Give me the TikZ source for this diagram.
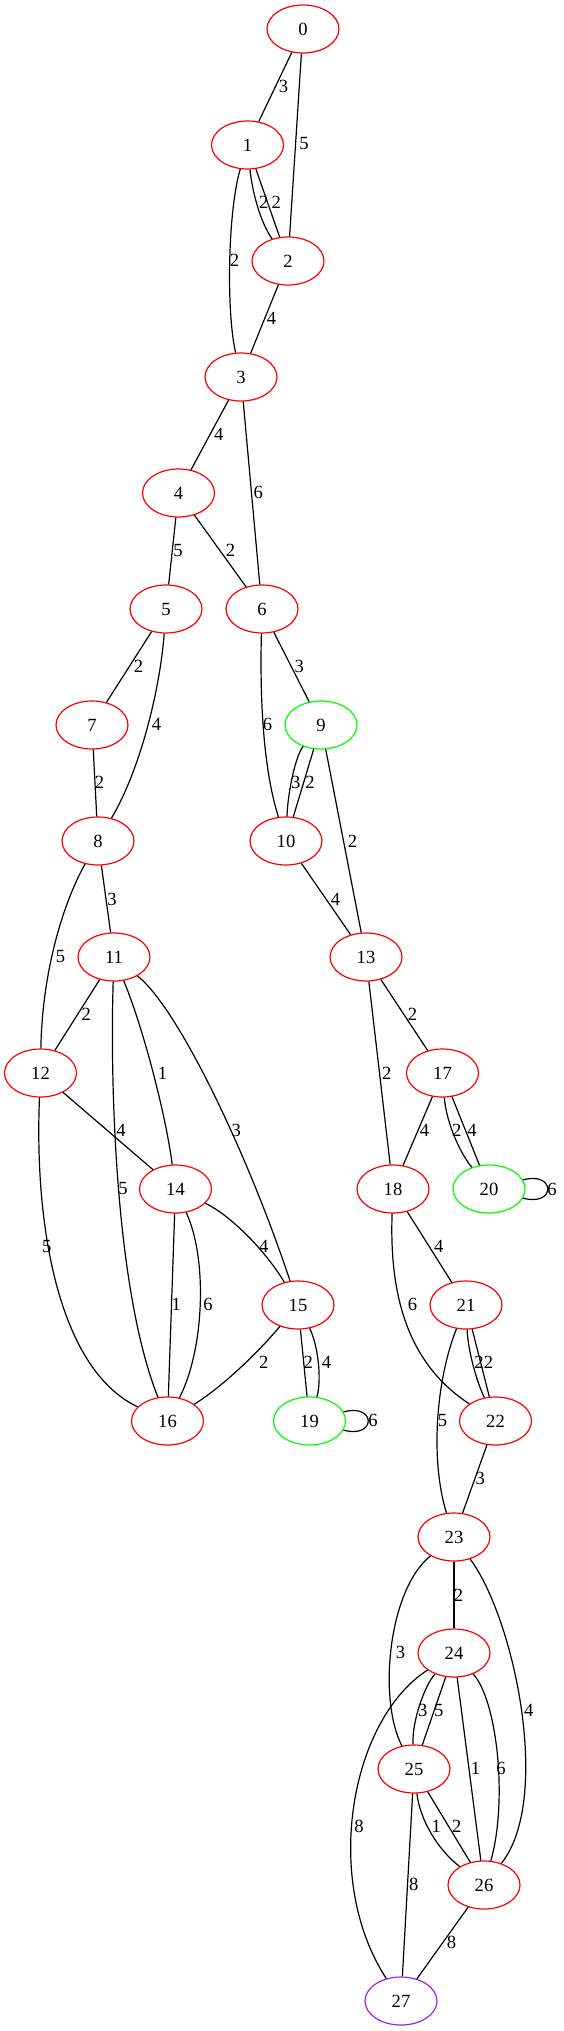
\documentclass[tikz,border=0pt]{standalone}
\usepackage{fontspec}
\setmainfont{Liberation Serif}
\usetikzlibrary{shapes.geometric}

\begin{document}
\begin{tikzpicture}[x=1pt,y=-1pt]
% Define colours
\definecolor{nodecol}{RGB}{255,0,0}     % Red
\definecolor{goalcol}{RGB}{0,255,0}     % Green
\definecolor{lastcol}{RGB}{160,32,240}  % Purple

% Styles
\tikzset{
  vtx/.style={ellipse,draw=nodecol,line width=1.2pt,minimum width=72pt,minimum height=48pt,inner sep=0pt,font=\fontsize{18.6}{18.6}\selectfont},
  lbl/.style={font=\fontsize{18.6}{18.6}\selectfont,inner sep=0pt},
  wire/.style={line width=1.2pt}
}

\useasboundingbox (0,0) rectangle (564,2031);

% Nodes, one row per rank
\node[vtx] (n0) at (303,29) {0};
\node[vtx] (n1) at (247.5,145) {1};
\node[vtx] (n2) at (288,261) {2};
\node[vtx] (n3) at (241,377) {3};
\node[vtx] (n4) at (178.5,493) {4};
\node[vtx] (n5) at (166,609) {5};
\node[vtx] (n6) at (262,609) {6};
\node[vtx] (n7) at (92,725) {7};
\node[vtx,draw=goalcol] (n9) at (321,725) {9};
\node[vtx] (n8) at (98,841) {8};
\node[vtx] (n10) at (286,841) {10};
\node[vtx] (n11) at (114,957) {11};
\node[vtx] (n13) at (366,957) {13};
\node[vtx] (n12) at (40.5,1073) {12};
\node[vtx] (n17) at (442.5,1073) {17};
\node[vtx] (n14) at (175.5,1189) {14};
\node[vtx] (n18) at (393,1189) {18};
\node[vtx,draw=goalcol] (n20) at (489,1189) {20};
\node[vtx] (n15) at (298,1305) {15};
\node[vtx] (n21) at (466,1305) {21};
\node[vtx] (n16) at (167.5,1421) {16};
\node[vtx,draw=goalcol] (n19) at (309.5,1421) {19};
\node[vtx] (n22) at (495.5,1421) {22};
\node[vtx] (n23) at (454,1537) {23};
\node[vtx] (n24) at (454,1653) {24};
\node[vtx] (n25) at (414,1769) {25};
\node[vtx] (n26) at (484,1885) {26};
\node[vtx,draw=lastcol] (n27) at (401,2001) {27};

% Edges with weights
\draw[wire] (n0) -- (n1) node[lbl] at (283.5,86) {3};
\draw[wire] (n0) -- (n2) node[lbl] at (304,144) {5};
\draw[wire] (n1) .. controls (252,190) and (260,222) .. (n2) node[lbl] at (263.7,202) {2};
\draw[wire] (n1) -- (n2) node[lbl] at (276.3,202) {2};
\draw[wire] (n1) .. controls (228,210) and (226,310) .. (n3) node[lbl] at (234.5,260) {2};
\draw[wire] (n2) -- (n3) node[lbl] at (271.6,318) {4};
\draw[wire] (n3) -- (n4) node[lbl] at (218.7,434) {4};
\draw[wire] (n3) -- (n6) node[lbl] at (258.3,492) {6};
\draw[wire] (n4) -- (n5) node[lbl] at (178,550) {5};
\draw[wire] (n4) -- (n6) node[lbl] at (230.6,550) {2};
\draw[wire] (n5) -- (n7) node[lbl] at (138.5,666) {2};
\draw[wire] (n5) .. controls (160,690) and (140,770) .. (n8) node[lbl] at (156.5,724) {4};
\draw[wire] (n6) -- (n9) node[lbl] at (299.3,666) {3};
\draw[wire] (n6) .. controls (260,690) and (262,765) .. (n10) node[lbl] at (267.6,724) {6};
\draw[wire] (n7) -- (n8) node[lbl] at (99.6,782) {2};
\draw[wire] (n9) .. controls (296,755) and (288,790) .. (n10) node[lbl] at (295.7,782) {3};
\draw[wire] (n9) -- (n10) node[lbl] at (310,782) {2};
\draw[wire] (n9) -- (n13) node[lbl] at (352.5,841) {2};
\draw[wire] (n10) -- (n13) node[lbl] at (335.6,899) {4};
\draw[wire] (n8) -- (n11) node[lbl] at (111.9,899) {3};
\draw[wire] (n8) .. controls (62,905) and (42,975) .. (n12) node[lbl] at (60.4,956) {5};
\draw[wire] (n11) -- (n12) node[lbl] at (86.3,1014) {2};
\draw[wire] (n11) .. controls (142,1025) and (165,1110) .. (n14) node[lbl] at (162.6,1073) {1};
\draw[wire] (n11) .. controls (180,1010) and (250,1160) .. (n15) node[lbl] at (236.3,1130) {3};
\draw[wire] (n11) .. controls (110,1080) and (115,1290) .. (n16) node[lbl] at (123,1188) {5};
\draw[wire] (n12) -- (n14) node[lbl] at (120.9,1130) {4};
\draw[wire] (n12) .. controls (34,1230) and (60,1370) .. (n16) node[lbl] at (46.8,1246) {5};
\draw[wire] (n13) -- (n17) node[lbl] at (412.6,1014) {2};
\draw[wire] (n13) -- (n18) node[lbl] at (386.7,1073) {2};
\draw[wire] (n17) -- (n18) node[lbl] at (424.5,1130) {4};
\draw[wire] (n17) .. controls (446,1120) and (458,1150) .. (n20) node[lbl] at (456.8,1130) {2};
\draw[wire] (n17) -- (n20) node[lbl] at (472,1130) {4};
\draw[wire] (n20.15) .. controls +(33,-9) and +(33,9) .. (n20.-15) node[lbl] at (552,1189) {6};
\draw[wire] (n14) .. controls (230,1215) and (265,1250) .. (n15) node[lbl] at (263.7,1246) {4};
\draw[wire] (n14) -- (n16) node[lbl] at (176.3,1304) {1};
\draw[wire] (n14) .. controls (208,1260) and (204,1350) .. (n16) node[lbl] at (207.9,1304) {6};
\draw[wire] (n15) .. controls (260,1350) and (225,1385) .. (n16) node[lbl] at (263.7,1362) {2};
\draw[wire] (n15) -- (n19) node[lbl] at (308.3,1362) {2};
\draw[wire] (n15) .. controls (318,1345) and (322,1380) .. (n19) node[lbl] at (326.6,1362) {4};
\draw[wire] (n19.15) .. controls +(33,-9) and +(33,9) .. (n19.-15) node[lbl] at (373,1420) {6};
\draw[wire] (n18) -- (n21) node[lbl] at (438.8,1246) {4};
\draw[wire] (n18) .. controls (389,1300) and (410,1365) .. (n22) node[lbl] at (412.6,1304) {6};
\draw[wire] (n21) .. controls (468,1350) and (476,1380) .. (n22) node[lbl] at (479,1362) {2};
\draw[wire] (n21) -- (n22) node[lbl] at (488.5,1362) {2};
\draw[wire] (n21) .. controls (436,1380) and (430,1460) .. (n23) node[lbl] at (442.4,1420) {5};
\draw[wire] (n22) -- (n23) node[lbl] at (480.2,1478) {3};
\draw[wire] (n23) -- (n24) node[lbl] at (458.6,1595) {2};
\draw[wire] (n23) .. controls (388,1590) and (378,1700) .. (n25) node[lbl] at (400.4,1652) {3};
\draw[wire] (n23) .. controls (515,1620) and (552,1800) .. (n26) node[lbl] at (528.8,1710) {4};
\draw[wire] (n24) .. controls (425,1685) and (412,1720) .. (n25) node[lbl] at (422.7,1710) {3};
\draw[wire] (n24) -- (n25) node[lbl] at (438.8,1710) {5};
\draw[wire] (n24) -- (n26) node[lbl] at (475.5,1768) {1};
\draw[wire] (n24) .. controls (497,1700) and (508,1800) .. (n26) node[lbl] at (501,1768) {6};
\draw[wire] (n24) .. controls (350,1720) and (322,1880) .. (n27) node[lbl] at (359,1826) {8};
\draw[wire] (n25) .. controls (420,1820) and (438,1850) .. (n26) node[lbl] at (436.3,1826) {1};
\draw[wire] (n25) -- (n26) node[lbl] at (456.8,1826) {2};
\draw[wire] (n25) -- (n27) node[lbl] at (413.7,1884) {8};
\draw[wire] (n26) -- (n27) node[lbl] at (451.4,1942) {8};
\end{tikzpicture}
\end{document}
